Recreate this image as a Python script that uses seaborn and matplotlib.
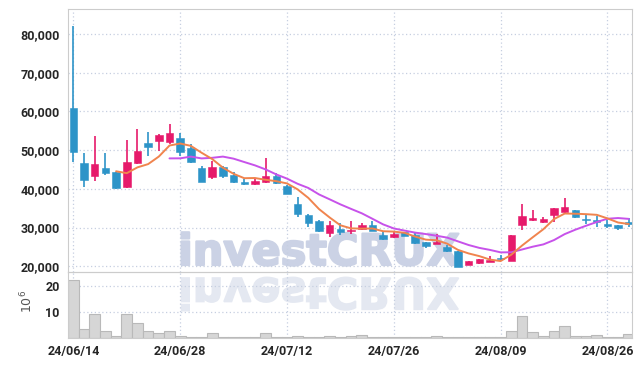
import matplotlib
matplotlib.use('Agg')
import matplotlib.pyplot as plt
import matplotlib.patheffects as pe
import seaborn as sns
import pandas as pd
import numpy as np
from matplotlib.textpath import TextPath
from matplotlib.patches import PathPatch
from matplotlib.font_manager import FontProperties
from matplotlib.transforms import Affine2D, IdentityTransform
from matplotlib.ticker import FuncFormatter

sns.set_style('white')
plt.rcParams['font.family'] = ['Roboto', 'DejaVu Sans']

# daily prices (trading-day index 0 = 24/06/14)
opens = [60800, 46800, 43450, 45500, 44300, 40400, 46600, 51800, 52300, 52050,
         53050, 50500, 45500, 43000, 45750, 43700, 41650, 41200, 41900, 43450,
         40850, 36200, 33300, 31650, 28550, 29750, 29100, 29600, 30800, 28150,
         27550, 28750, 28050, 26250, 25800, 25100, 23900, 20450, 20900, 21150,
         22150, 21500, 30550, 32050, 31500, 33300, 33950, 34550, 32300, 32000,
         30850, 30700, 31500]
closes = [49500, 42400, 46550, 44200, 40100, 47050, 49900, 50750, 53950, 54350,
          49650, 46850, 41900, 45750, 43250, 41700, 41200, 42150, 43450, 41450,
          38800, 33450, 31150, 29050, 30550, 28750, 29500, 30800, 29250, 27000,
          28300, 27900, 25950, 25300, 26250, 23850, 19900, 21350, 21850, 21750,
          21950, 28150, 33050, 32550, 32200, 35050, 35300, 32800, 32000, 31350,
          30450, 29950, 30850]
highs = [82150, 49300, 53750, 49300, 44300, 52500, 55500, 54750, 54100, 56800,
         54450, 51600, 45850, 47150, 46000, 44400, 42600, 42800, 48000, 44100,
         41000, 37800, 33400, 32000, 31700, 31250, 31650, 31250, 31650, 28900,
         29250, 28900, 28500, 26300, 28400, 25400, 24000, 21500, 22000, 22600,
         22900, 28200, 36000, 34450, 32650, 35100, 37550, 34600, 33400, 33000,
         31900, 30750, 32400]
lows = [47000, 40500, 42050, 43700, 40000, 40300, 46300, 48550, 49700, 51700,
        48600, 46700, 41800, 42500, 42900, 41450, 41000, 41100, 41600, 41300,
        38600, 32850, 30100, 28800, 27700, 28200, 28400, 29450, 29100, 26900,
        27400, 27750, 25800, 24800, 25700, 23600, 19800, 20300, 20700, 21000,
        21300, 21400, 29500, 31700, 31200, 31450, 33400, 32400, 31000, 30100,
        29950, 29450, 30100]
# volume in millions of shares
volumes = [22.5, 3.5, 9.2, 2.8, 0.9, 9.2, 5.8, 2.8, 1.8, 2.8,
           0.9, 0.5, 0.5, 1.8, 0.5, 0.3, 0.3, 0.3, 2.0, 0.5,
           0.5, 0.9, 0.5, 0.5, 0.9, 0.5, 0.9, 1.3, 0.5, 0.5,
           0.3, 0.3, 0.5, 0.3, 0.9, 0.3, 0.3, 0.2, 0.2, 0.2,
           0.2, 2.8, 8.5, 2.4, 0.9, 2.8, 4.7, 0.9, 0.9, 1.3,
           0.5, 0.5, 1.6]
tick_pos = [0, 10, 20, 30, 40, 50]
tick_labels = ['24/06/14', '24/06/28', '24/07/12', '24/07/26', '24/08/09', '24/08/26']

UP = '#e61a6b'
DOWN = '#2d94c8'
GRID = '#c6cfe0'
TXT = '#262626'
WM = '#cbd2e5'

df = pd.DataFrame({'open': opens, 'close': closes, 'high': highs,
                   'low': lows, 'volume': volumes})
df['idx'] = np.arange(len(df))
df['ma5'] = df['close'].rolling(5).mean()
df['ma10'] = df['close'].rolling(10).mean()
up = df['close'] >= df['open']
colors = np.where(up, UP, DOWN)

fig = plt.figure(figsize=(6.43, 3.66), dpi=100)
fig.patch.set_facecolor('white')
ax = fig.add_axes([0.1058, 0.2568, 0.8771, 0.7186])
axv = fig.add_axes([0.1058, 0.0765, 0.8771, 0.1803], sharex=ax)

# watermark behind the data, with its mirrored reflection
fig.text(178 / 643, 1 - 265 / 366, 'investCRUX', fontsize=31, family='DejaVu Sans',
         weight='bold', color=WM, zorder=-2,
         path_effects=[pe.withStroke(linewidth=1.6, foreground=WM)])
tp = TextPath((0, 0), 'investCRUX', size=43,
              prop=FontProperties(family='DejaVu Sans', weight='bold'))
refl = tp.transformed(Affine2D().scale(1, -1).translate(178, 366 - 278))
fig.add_artist(PathPatch(refl, transform=IdentityTransform(),
                         facecolor='#e4e8f1', edgecolor='#e4e8f1', linewidth=1.2,
                         zorder=-2))

for a in (ax, axv):
    a.patch.set_facecolor('none')
    a.grid(True, color=GRID, linestyle=(0, (1, 2)), linewidth=0.9)
    a.set_axisbelow(True)
    for s in a.spines.values():
        s.set_color('#cccccc')
        s.set_linewidth(0.8)
    a.tick_params(length=0, colors=TXT, labelsize=9)

# candles
ax.vlines(df['idx'], df['low'], df['high'], colors=colors, linewidth=1.2, zorder=3)
body = np.maximum((df['close'] - df['open']).abs(), 180)
ax.bar(df['idx'], body, bottom=np.minimum(df['open'], df['close']), width=0.7,
       color=colors, edgecolor=colors, linewidth=0.4, zorder=4)

sns.lineplot(data=df, x='idx', y='ma10', color='#c752ea', linewidth=1.4, ax=ax, zorder=5)
sns.lineplot(data=df, x='idx', y='ma5', color='#f0844e', linewidth=1.4, ax=ax, zorder=6)

ax.set_ylim(18530, 86460)
ax.set_yticks([20000, 30000, 40000, 50000, 60000, 70000, 80000])
ax.yaxis.set_major_formatter(FuncFormatter(lambda v, p: f'{int(v):,}'))
ax.set_xlabel('')
ax.set_ylabel('')
ax.tick_params(axis='x', labelbottom=False)

sns.barplot(data=df, x='idx', y='volume', native_scale=True, width=1.0,
            color='#d6d6d6', edgecolor='#b9b9b9', linewidth=0.8, saturation=1,
            ax=axv, zorder=2)
axv.set_ylim(0, 25.5)
axv.set_yticks([10, 20])
axv.set_xlim(-0.5, 52.3)
axv.set_xticks(tick_pos)
axv.set_xticklabels(tick_labels)
axv.set_xlabel('')
axv.set_ylabel(r'$10^6$', color='#555555', fontsize=9)
axv.yaxis.set_label_coords(-0.058, 0.55)
for lab in ax.get_yticklabels() + axv.get_yticklabels() + axv.get_xticklabels():
    lab.set_fontweight('bold')
axv.tick_params(axis='x', pad=5)
ax.tick_params(axis='y', pad=6)
axv.tick_params(axis='y', pad=6)

fig.savefig('out.png', dpi=100, facecolor='white')
